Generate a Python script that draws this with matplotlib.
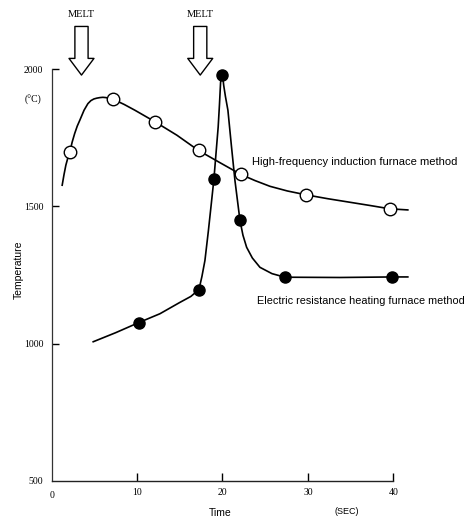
import matplotlib.pyplot as plt

# Время (с) и температура (°C)
# Высокочастотная индукционная печь: точки-маркеры
hf_t = [2.1, 7.2, 12.1, 17.2, 22.2, 29.8, 39.6]
hf_temp = [1698, 1890, 1808, 1704, 1616, 1542, 1491]
# Высокочастотная печь: точки вдоль кривой
hf_curve_t = [1.24, 1.45, 1.67, 1.9, 2.14, 2.4, 2.7, 3.0, 3.31, 3.8, 4.25, 4.6, 4.95,
              5.3, 5.66, 6.0, 6.36, 7.21, 8.5, 9.75, 12.1, 14.67, 17.17, 19.71,
              22.17, 23.8, 25.56, 27.6, 29.78, 32.3, 34.9, 37.3, 39.6, 41.7]
hf_curve_temp = [1577, 1615, 1650, 1676, 1698, 1733, 1765, 1792, 1814, 1850, 1874,
                 1885, 1891, 1894, 1896, 1897, 1896, 1890, 1871, 1850, 1808, 1759,
                 1704, 1659, 1616, 1594, 1573, 1556, 1542, 1528, 1515, 1503, 1491, 1487]

# Печь сопротивления: точки-маркеры
er_t = [10.2, 17.25, 19.0, 19.9, 22.05, 27.3, 39.9]
er_temp = [1077, 1197, 1599, 1978, 1449, 1242, 1243]
# Печь сопротивления: точки вдоль кривой
er_curve_t = [4.87, 7.5, 10.22, 12.68, 15.0, 16.3, 17.25, 17.6, 17.95, 18.35, 18.7,
              19.0, 19.5, 19.65, 19.78, 19.9, 20.02, 20.15, 20.35, 20.64, 21.05,
              21.46, 22.05, 22.4, 22.83, 23.5, 24.39, 25.8, 27.32, 33.75, 39.96, 41.7]
er_curve_temp = [1007, 1040, 1077, 1109, 1150, 1172, 1197, 1245, 1303, 1410, 1511,
                 1599, 1789, 1870, 1950, 1985, 1975, 1940, 1900, 1850, 1720,
                 1595, 1449, 1395, 1351, 1312, 1278, 1255, 1242, 1241, 1243, 1243]

x_ticks = [10, 20, 30, 40]
x_ticklabels = ['10', '20', '30', '40']
y_ticks = [1000, 1500, 2000]
y_ticklabels = ['1000', '1500', '2000']
melt_t = [3.5, 17.4]

serif = 'Liberation Serif'
sans = 'Liberation Sans'

fig = plt.figure(figsize=(4.69, 5.19), dpi=100)
ax = fig.add_axes([0.110, 0.0732, 0.7286, 0.7938])

# Кривые и маркеры
ax.plot(hf_curve_t, hf_curve_temp, color='black', lw=1.2, clip_on=False, zorder=2)
ax.plot(hf_t, hf_temp, 'o', ms=9, mfc='white', mec='black', mew=1.0, clip_on=False, zorder=3)
ax.plot(er_curve_t, er_curve_temp, color='black', lw=1.2, clip_on=False, zorder=2)
ax.plot(er_t, er_temp, 'o', ms=8, mfc='black', mec='black', clip_on=False, zorder=3)

ax.set_xlim(0, 40)
ax.set_ylim(500, 2000)

# Оси
for s in ['top', 'right']:
    ax.spines[s].set_visible(False)
ax.spines['left'].set_color('#333333')
ax.spines['bottom'].set_color('#222222')
ax.spines['left'].set_linewidth(0.9)
ax.spines['bottom'].set_linewidth(1.0)

ax.set_xticks(x_ticks)
ax.set_xticklabels(x_ticklabels, family=serif, fontsize=7)
ax.set_yticks(y_ticks)
ax.set_yticklabels(y_ticklabels, family=serif, fontsize=7)
ax.tick_params(axis='x', direction='in', length=6, width=1, pad=5)
ax.tick_params(axis='y', direction='in', length=5, width=1, pad=6)

# Подписи "0" и "500" в углу
ax.annotate('0', xy=(0, 500), xytext=(0, -7), textcoords='offset points',
            family=serif, fontsize=7, ha='center', va='top')
ax.annotate('500', xy=(0, 500), xytext=(-6, 0), textcoords='offset points',
            family=serif, fontsize=7, ha='right', va='center')

ax.text(-2.2, 1887, '(°C)', family=serif, fontsize=7, ha='center', va='center')

# Стрелки MELT
for t in melt_t:
    ax.annotate('', xy=(t, 1978), xytext=(t, 2155),
                arrowprops=dict(arrowstyle='simple,head_length=1.2,head_width=1.8,tail_width=0.95',
                                fc='white', ec='black', lw=1.0, shrinkA=0, shrinkB=0,
                                mutation_scale=10),
                annotation_clip=False)
    ax.text(t, 2197, 'MELT', family=serif, fontsize=7.5, ha='center', va='center')

# Подписи серий
ax.text(23.5, 1661, 'High-frequency induction furnace method', family=sans,
        fontsize=8, ha='left', va='center')
ax.text(24.0, 1157, 'Electric resistance heating furnace method', family=sans,
        fontsize=7.8, ha='left', va='center', clip_on=False)

fig.text(19 / 469, 1 - 270 / 519, 'Temperature', family=sans, fontsize=7.5,
         rotation=90, ha='center', va='center')
fig.text(220.7 / 469, 1 - 513 / 519, 'Time', family=sans, fontsize=7.5,
         ha='center', va='center')
fig.text(346.7 / 469, 1 - 511 / 519, '(SEC)', family=sans, fontsize=6.5,
         ha='center', va='center')

fig.savefig('out.png', dpi=100)
